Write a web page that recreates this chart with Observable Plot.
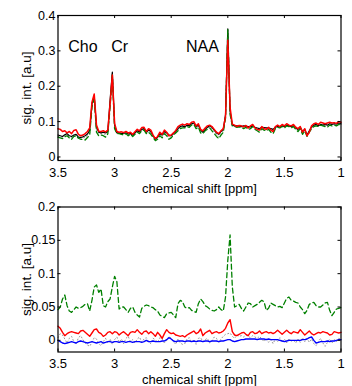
<!DOCTYPE html>
<html><head><meta charset="utf-8">
<script src="https://cdn.jsdelivr.net/npm/d3@7"></script>
<script src="https://cdn.jsdelivr.net/npm/@observablehq/plot@0.6"></script>
<style>
html,body{margin:0;padding:0;background:#fff;}
#chart svg{display:block;}
</style></head><body><div id="chart"></div>
<script>
// chemical shift sampling grid (ppm), 3.50 -> 1.00 in 0.02 steps
const ppm = d3.range(126).map(i => +(3.5 - 0.02 * i).toFixed(2));

const xTicks = [3.5, 3, 2.5, 2, 1.5, 1];
const topYTicks = [0, 0.1, 0.2, 0.3, 0.4];
const botYTicks = [0, 0.05, 0.1, 0.15, 0.2];
const xLabel = "chemical shift [ppm]";
const yLabel = "sig. int. [a.u]";
const peakNames = ["Cho", "Cr", "NAA"];
const peakLabelPpm = [3.41, 3.03, 2.37];
const peakLabelY = [0.31, 0.31, 0.31];

// ---- top panel: spectra ----
const specBlack = [
.062,.060,.058,.063,.066,.060,.058,.062,.064,.056,.055,.057,.060,.065,.075,.150,.172,.085,.070,.068,
.070,.068,.072,.160,.240,.090,.068,.068,.066,.067,.068,.065,.066,.062,.068,.074,.071,.078,.080,.070,
.076,.072,.060,.050,.056,.066,.062,.072,.068,.062,.060,.066,.072,.080,.086,.088,.085,.090,.088,.094,
.096,.086,.090,.076,.070,.078,.084,.088,.084,.076,.068,.064,.072,.078,.120,.362,.130,.090,.088,.088,
.087,.086,.088,.087,.086,.085,.088,.084,.082,.080,.084,.083,.082,.082,.080,.078,.084,.086,.085,.088,
.086,.090,.088,.086,.088,.082,.078,.084,.072,.078,.062,.074,.085,.090,.092,.088,.092,.090,.092,.090,
.094,.092,.094,.093,.096,.094];
const specRed = [
.080,.078,.072,.074,.068,.072,.066,.075,.077,.064,.060,.062,.066,.072,.082,.155,.178,.090,.073,.072,
.074,.071,.076,.150,.232,.095,.072,.070,.071,.069,.072,.068,.070,.064,.071,.078,.074,.083,.084,.072,
.080,.076,.062,.052,.058,.070,.064,.076,.070,.060,.062,.068,.075,.086,.090,.093,.090,.094,.092,.098,
.100,.088,.094,.078,.074,.082,.088,.090,.086,.078,.070,.066,.074,.080,.115,.330,.140,.093,.090,.086,
.089,.088,.085,.089,.082,.088,.092,.082,.078,.076,.086,.080,.078,.084,.076,.072,.086,.090,.086,.092,
.088,.094,.090,.088,.092,.084,.080,.086,.070,.080,.060,.070,.088,.094,.096,.092,.098,.096,.094,.096,
.098,.096,.097,.095,.100,.098];
const specGreen = [
.056,.054,.052,.057,.060,.054,.050,.058,.060,.053,.050,.050,.048,.055,.062,.140,.170,.070,.060,.062,
.060,.056,.065,.140,.232,.080,.066,.066,.064,.062,.066,.060,.064,.058,.064,.070,.066,.074,.076,.066,
.070,.064,.055,.046,.050,.060,.054,.066,.060,.050,.054,.062,.068,.074,.080,.082,.082,.086,.084,.090,
.092,.080,.084,.068,.066,.074,.078,.082,.074,.066,.058,.052,.062,.070,.110,.360,.120,.088,.086,.084,
.085,.084,.080,.084,.078,.080,.086,.078,.074,.070,.080,.076,.074,.078,.070,.066,.080,.084,.082,.086,
.082,.088,.086,.082,.086,.078,.072,.080,.064,.074,.058,.070,.080,.086,.088,.086,.090,.088,.086,.084,
.090,.088,.090,.088,.092,.090];
const specGrey = [
.058,.057,.056,.059,.061,.057,.055,.059,.061,.055,.053,.054,.055,.060,.068,.145,.170,.078,.066,.065,
.066,.063,.069,.150,.236,.085,.067,.067,.065,.065,.067,.063,.065,.060,.066,.072,.069,.076,.078,.068,
.073,.068,.058,.048,.053,.063,.058,.069,.064,.056,.057,.064,.070,.077,.083,.085,.084,.088,.086,.092,
.094,.083,.087,.072,.068,.076,.081,.085,.079,.071,.063,.058,.067,.074,.115,.358,.125,.089,.087,.086,
.086,.085,.084,.085,.082,.083,.087,.081,.078,.075,.082,.080,.078,.080,.075,.072,.082,.085,.083,.087,
.084,.089,.087,.084,.087,.080,.075,.082,.068,.076,.060,.072,.082,.088,.090,.087,.091,.089,.089,.087,
.092,.090,.092,.090,.094,.092];

// ---- bottom panel: residuals ----
const resGreen = [
.046,.050,.062,.068,.052,.044,.042,.046,.050,.048,.049,.051,.054,.055,.044,.060,.080,.083,.072,.077,
.052,.050,.058,.062,.080,.096,.088,.047,.050,.050,.046,.042,.048,.050,.042,.038,.035,.048,.051,.053,
.052,.050,.049,.046,.044,.038,.036,.034,.040,.041,.042,.038,.034,.055,.060,.058,.050,.048,.049,.045,
.043,.042,.055,.062,.058,.052,.050,.047,.045,.044,.046,.050,.046,.044,.065,.120,.158,.080,.050,.052,
.054,.048,.044,.050,.056,.055,.050,.052,.054,.057,.060,.058,.045,.048,.056,.054,.052,.050,.051,.049,
.056,.063,.065,.060,.059,.057,.056,.050,.046,.040,.045,.054,.056,.057,.052,.050,.050,.053,.056,.057,
.045,.037,.042,.047,.048,.049];
const resRed = [
.021,.018,.012,.007,.010,.012,.013,.012,.011,.010,.014,.015,.012,.009,.006,.011,.016,.017,.012,.010,
.006,.008,.012,.013,.010,.013,.012,.008,.011,.013,.010,.007,.012,.013,.012,.016,.012,.009,.013,.014,
.010,.013,.010,.006,.012,.008,.003,.010,.016,.012,.010,.011,.008,.007,.006,.007,.005,.008,.010,.012,
.014,.010,.012,.017,.007,.011,.013,.015,.010,.012,.013,.011,.012,.014,.018,.026,.031,.013,.008,.007,
.009,.011,.012,.009,.007,.012,.013,.010,.011,.014,.010,.012,.013,.011,.012,.010,.012,.015,.012,.009,
.012,.015,.012,.010,.013,.012,.011,.016,.012,.008,.011,.014,.010,.008,.010,.012,.011,.013,.012,.011,
.008,.009,.013,.012,.011,.012];
const resBlue = [
.000,-.002,-.004,-.005,-.004,-.003,-.002,-.003,-.004,-.002,-.001,-.002,-.003,-.004,-.003,-.002,-.003,-.004,-.003,-.002,
-.004,-.003,-.002,-.002,-.003,-.002,-.002,-.003,-.002,-.002,-.003,-.002,-.002,-.003,-.002,-.002,-.002,-.003,-.002,.000,
-.002,-.002,-.001,-.002,-.002,-.002,-.001,-.001,.001,.004,.002,-.001,-.002,-.001,-.001,-.001,-.002,-.001,-.001,-.002,
-.001,-.002,-.001,-.001,-.002,-.001,-.001,-.002,-.001,-.001,-.001,-.002,-.001,-.001,.000,.001,.001,-.001,-.002,-.001,
.000,.001,.001,.002,.002,.002,.002,.002,.001,.002,.002,.002,.001,.002,.001,.001,.001,.001,.000,-.001,
-.002,-.001,.000,.000,.000,.000,.000,.000,.001,.001,.002,.004,.005,.000,-.004,-.003,-.002,-.002,-.002,-.001,
-.002,-.001,-.001,.000,.001,.001];
const resGrey = [
.004,.010,.008,.002,-.004,.003,.006,-.002,-.006,.004,.007,.001,-.004,-.007,-.009,-.003,.004,.002,-.005,-.008,
-.002,.003,-.004,.002,-.006,.001,.005,-.003,.002,-.005,.003,.006,-.002,.001,-.004,.002,.005,-.003,.002,.004,
-.002,-.005,.003,.001,-.003,.004,.002,-.004,.000,.006,.003,-.002,-.006,.002,-.004,-.006,-.005,.002,.004,-.003,
.001,-.006,.003,.004,-.002,.001,.003,-.004,-.001,.005,.003,-.003,.002,.006,.009,.010,.011,.006,.003,.008,
.006,.007,.005,.008,.006,.004,.007,.005,.003,.006,.002,-.002,.003,-.003,.001,-.005,.002,-.002,.004,-.003,
.002,-.004,.003,-.002,.001,-.004,.002,-.003,.004,-.002,.003,-.003,.002,-.005,-.008,-.002,.003,-.004,-.009,-.003,
.002,-.004,.001,-.002,.003,.002];

const FONT = "'Liberation Sans', Arial, Helvetica, sans-serif";
const W = 352, ML = 57.5, MR = 11.5, TICK = 3;

function panel({height, marginTop, marginBottom, yDomain, yTicks, lines, extra = []}) {
  const innerH = height - marginTop - marginBottom;
  const innerW = W - ML - MR;
  const fmt = d => String(d);
  return Plot.plot({
    width: W, height, marginLeft: ML, marginRight: MR, marginTop, marginBottom,
    style: {fontFamily: FONT, fontSize: "13px", color: "black", background: "white", overflow: "visible"},
    x: {domain: [3.5, 1]},
    y: {domain: yDomain},
    marks: [
      ...lines.map(s => Plot.line(ppm, {x: d => d, y: (d, i) => s.values[i], stroke: s.color,
        strokeWidth: s.width, strokeDasharray: s.dash, strokeLinejoin: "round"})),
      Plot.frame({stroke: "black", strokeWidth: 1.2}),
      Plot.tickX(xTicks, {x: d => d, insetTop: innerH - TICK, stroke: "black"}),
      Plot.tickX(xTicks, {x: d => d, insetBottom: innerH - TICK, stroke: "black"}),
      Plot.tickY(yTicks, {y: d => d, insetRight: innerW - TICK, stroke: "black"}),
      Plot.tickY(yTicks, {y: d => d, insetLeft: innerW - TICK, stroke: "black"}),
      Plot.axisX(xTicks, {tickSize: 0, tickPadding: 7, tickFormat: fmt, label: null, fontSize: 13, fill: "black"}),
      Plot.axisY(yTicks, {tickSize: 0, tickPadding: 2.5, tickFormat: fmt, label: null, fontSize: 12.5, fill: "black"}),
      Plot.text([xLabel], {frameAnchor: "middle", dy: innerH / 2 + 28, lineAnchor: "middle",
        text: d => d, fontSize: 13, fill: "black"}),
      Plot.text([yLabel], {frameAnchor: "middle", dx: -(innerW / 2 + 31), rotate: -90, lineAnchor: "middle",
        text: d => d, fontSize: 13.5, fill: "black"}),
      ...extra
    ]
  });
}

const topPlot = panel({
  height: 200, marginTop: 15, marginBottom: 40,
  yDomain: [-0.01, 0.4], yTicks: topYTicks,
  lines: [
    {values: specGrey, color: "#8c8c8c", width: 0.9, dash: "1,2.5"},
    {values: specBlack, color: "black", width: 1.2},
    {values: specGreen, color: "#008000", width: 1.3, dash: "5,3"},
    {values: specRed, color: "#ff0000", width: 1.5}
  ],
  extra: [
    Plot.text(peakNames, {x: (d, i) => peakLabelPpm[i], y: (d, i) => peakLabelY[i], text: d => d,
      textAnchor: "start", fontSize: 16, fill: "black"})
  ]
});

const botPlot = panel({
  height: 186, marginTop: 6.5, marginBottom: 34.5,
  yDomain: [-0.0175, 0.2], yTicks: botYTicks,
  lines: [
    {values: resGrey, color: "#8c8c8c", width: 0.9, dash: "1,2.5"},
    {values: resGreen, color: "#008000", width: 1.3, dash: "5,3"},
    {values: resBlue, color: "#0000ff", width: 1.4},
    {values: resRed, color: "#ff0000", width: 1.4}
  ]
});

const host = document.getElementById("chart");
host.append(topPlot, botPlot);
</script>
</body></html>
